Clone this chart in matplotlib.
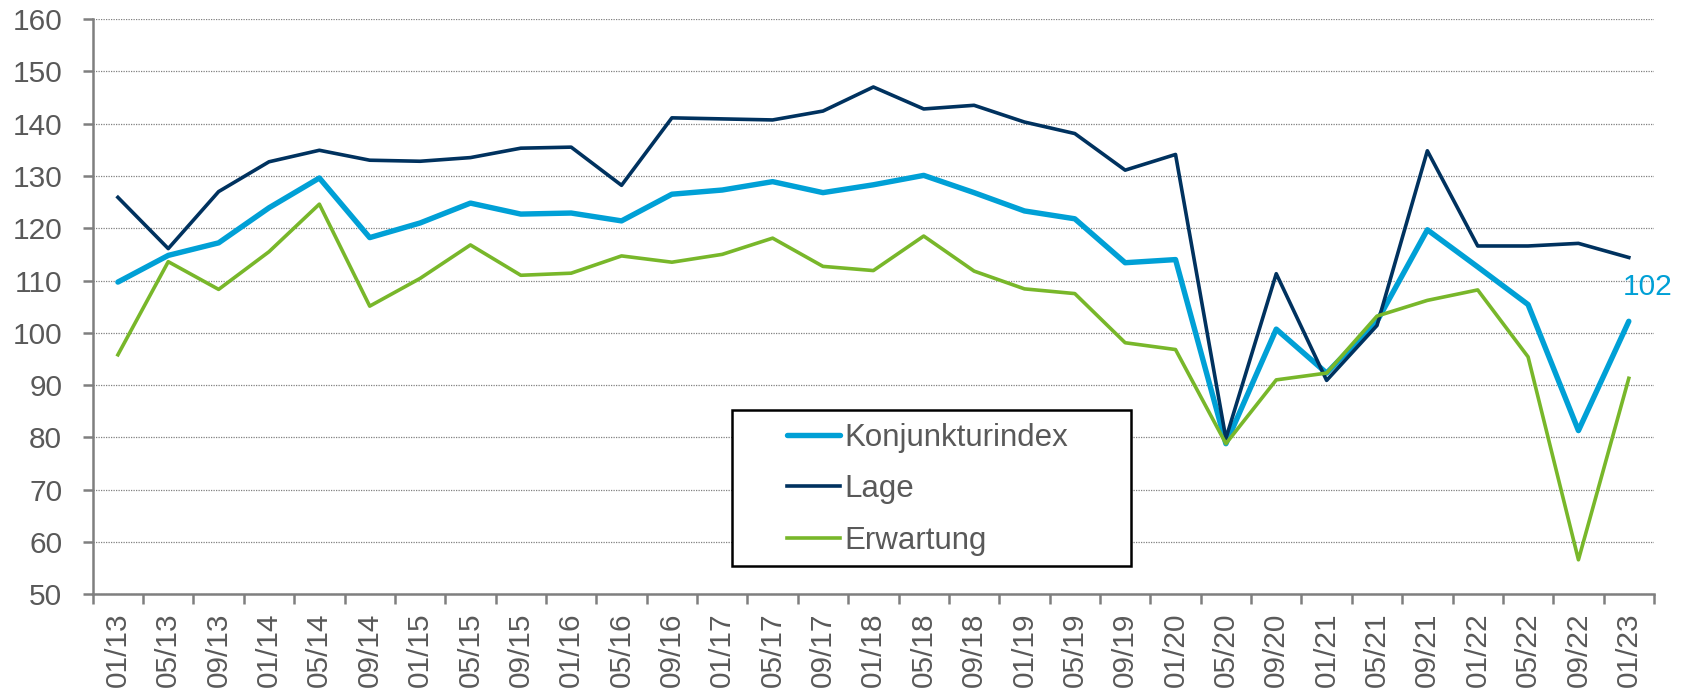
import numpy as np
import matplotlib
matplotlib.use('Agg')
import matplotlib.pyplot as plt
from matplotlib.patches import Rectangle
from matplotlib.ticker import FixedLocator

plt.rcParams['font.family'] = ['Liberation Sans', 'DejaVu Sans']

labels = ["01/13", "05/13", "09/13", "01/14", "05/14", "09/14", "01/15", "05/15",
          "09/15", "01/16", "05/16", "09/16", "01/17", "05/17", "09/17", "01/18",
          "05/18", "09/18", "01/19", "05/19", "09/19", "01/20", "05/20", "09/20",
          "01/21", "05/21", "09/21", "01/22", "05/22", "09/22", "01/23"]

konjunktur = [109.7, 114.8, 117.2, 123.9, 129.6, 118.2, 121.0, 124.8, 122.7, 122.9,
              121.4, 126.5, 127.3, 128.9, 126.8, 128.3, 130.1, 126.8, 123.3, 121.8,
              113.4, 114.0, 78.8, 100.7, 92.3, 102.2, 119.7, 112.6, 105.4, 81.3, 102.2]
lage = [125.9, 116.1, 127.0, 132.7, 134.9, 133.0, 132.8, 133.5, 135.3, 135.5,
        128.2, 141.1, 140.9, 140.7, 142.4, 147.0, 142.8, 143.5, 140.3, 138.1,
        131.1, 134.1, 79.8, 111.3, 90.9, 101.4, 134.8, 116.6, 116.6, 117.1, 114.4]
erwartung = [95.8, 113.6, 108.3, 115.5, 124.6, 105.1, 110.4, 116.8, 111.0, 111.4,
             114.7, 113.5, 115.0, 118.1, 112.7, 111.9, 118.5, 111.8, 108.4, 107.5,
             98.1, 96.8, 78.8, 91.0, 92.3, 103.2, 106.2, 108.2, 95.4, 56.6, 91.3]

C_KONJ = "#00A0D6"
C_LAGE = "#00325F"
C_ERW = "#78B72A"
GREY = "#595959"
AXIS = "#7F7F7F"
FS = 21.5

x = np.arange(len(labels))

fig = plt.figure(figsize=(16.95, 6.96), dpi=100)
ax = fig.add_axes([0.0547, 0.1461, 0.9211, 0.8266])

ax.plot(x, konjunktur, color=C_KONJ, lw=3.9, label="Konjunkturindex", solid_capstyle='round')
ax.plot(x, lage, color=C_LAGE, lw=2.6, label="Lage")
ax.plot(x, erwartung, color=C_ERW, lw=2.6, label="Erwartung")

# end value label
ax.text(30.38, 107.2, f"{konjunktur[-1]:.0f}", color=C_KONJ, fontsize=FS,
        ha='center', va='baseline')

ax.set_xlim(-0.5, len(labels) - 0.5)
ax.set_ylim(50, 160)
ax.set_yticks(np.arange(50, 161, 10))
ax.yaxis.grid(True, linestyle=(0, (1, 1)), color="#808080", lw=0.9)
ax.set_axisbelow(True)

ax.set_xticks(x)
ax.set_xticklabels(labels, rotation=90)
ax.xaxis.set_minor_locator(FixedLocator(np.arange(-0.5, len(labels), 1.0)))
ax.tick_params(axis='x', which='major', length=0, pad=13, labelsize=FS, labelcolor=GREY)
ax.tick_params(axis='x', which='minor', length=7, width=1.8, color=AXIS, direction='out')
ax.tick_params(axis='y', length=7, width=1.8, color=AXIS, labelsize=FS,
               labelcolor=GREY, pad=15)

for s in ['top', 'right']:
    ax.spines[s].set_visible(False)
for s in ['left', 'bottom']:
    ax.spines[s].set_color(AXIS)
    ax.spines[s].set_linewidth(1.8)

# legend box drawn separately so the entries can sit indented inside it
ax.add_patch(Rectangle((0.4093, 0.0497), 0.2557, 0.2707, transform=ax.transAxes,
                       facecolor='white', edgecolor='black', lw=1.8, zorder=4))
leg = ax.legend(loc='center left', bbox_to_anchor=(0.4447, 0.1825), fontsize=22.5,
                frameon=False, handlelength=1.7, handletextpad=0.15,
                labelspacing=0.68, borderpad=0, borderaxespad=0)
leg.set_zorder(5)
for t in leg.get_texts():
    t.set_color(GREY)

fig.savefig("out.png", dpi=100)
